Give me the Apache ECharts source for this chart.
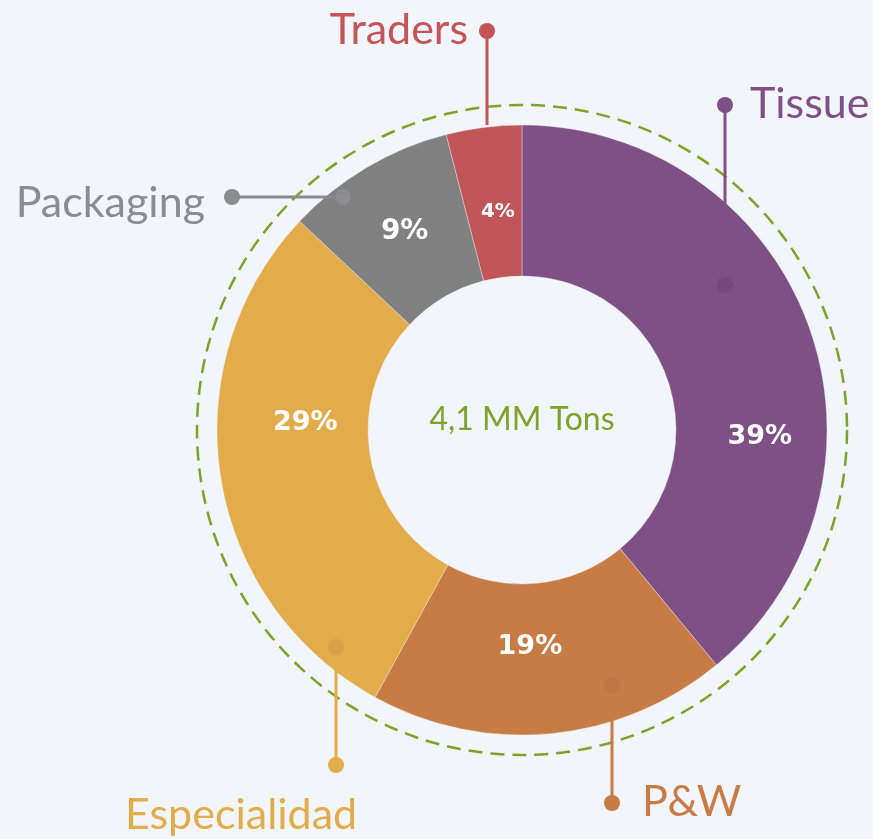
<!DOCTYPE html>
<html>
<head>
<meta charset="utf-8">
<script src="https://cdn.jsdelivr.net/npm/echarts@6/dist/echarts.min.js"></script>
<style>
html,body{margin:0;padding:0;background:#f2f5f9;}
#chart{width:873px;height:839px;}
</style>
</head>
<body>
<div id="chart"></div>
<script>
// ---- data ----
const categories = ['Tissue', 'P&W', 'Especialidad', 'Packaging', 'Traders'];
const shares = [39, 19, 29, 9, 4];
const centerLabel = '4,1 MM Tons';

// ---- styles ----
const sliceColors = ['#7f5085', '#c87c45', '#e3ac4a', '#808080', '#c25558'];
const labelColors = ['#7f5085', '#c87c45', '#e3ac4a', '#8b8b90', '#c4545a'];
const innerDotColors = ['#744679', '#bd7442', '#d6a045', '#8f8f94', '#c4545a'];
const pctSizes = [27, 27, 27, 28, 20];
const green = '#7fa22a';
const CX = 522, CY = 430, R_OUT = 305, R_IN = 154, R_DASH = 325;

// callout layout (pixel positions of label line ends and texts)
const callouts = [
  {from: [725, 285], to: [725, 105], text: [750, 104], align: 'left', innerDot: true},
  {from: [612, 685], to: [612, 803], text: [642, 802], align: 'left', innerDot: true},
  {from: [336, 647], to: [336, 765], text: [125, 815], align: 'left', innerDot: true},
  {from: [343, 197], to: [232, 197], text: [205, 203], align: 'right', innerDot: true},
  {from: [487, 125], to: [487, 31], text: [468, 30], align: 'right', innerDot: false}
];
const pctShift = [[19, 86], [-14, -14], [13, -43], [1, 2], [5, 12]];

const chart = echarts.init(document.getElementById('chart'), null, {renderer: 'canvas'});

const pieData = categories.map((c, i) => ({
  name: c, value: shares[i],
  itemStyle: {color: sliceColors[i]},
  label: {fontSize: pctSizes[i]}
}));
const nameData = categories.map((c, i) => ({
  name: c, value: shares[i],
  label: {color: labelColors[i]},
  labelLine: {lineStyle: {color: labelColors[i]}}
}));

const graphics = [
  {type: 'circle', shape: {cx: CX, cy: CY, r: R_DASH}, silent: true, z: 0,
   style: {fill: 'none', stroke: green, lineWidth: 2.5, lineDash: [14, 8]}},
  {type: 'text', x: CX, y: 420, silent: true, z: 10,
   style: {text: centerLabel, fill: green, font: '32px Lato', textAlign: 'center', textVerticalAlign: 'middle'}}
];
callouts.forEach((c, i) => {
  graphics.push({type: 'circle', shape: {cx: c.to[0], cy: c.to[1], r: 8}, zlevel: 1, silent: true,
    style: {fill: labelColors[i]}});
  if (c.innerDot) {
    graphics.push({type: 'circle', shape: {cx: c.from[0], cy: c.from[1], r: 8}, zlevel: 1, silent: true,
      style: {fill: innerDotColors[i], opacity: 0.8}});
  }
});

chart.setOption({
  backgroundColor: '#f2f5f9',
  animation: false,
  graphic: graphics,
  series: [
    {
      type: 'pie',
      center: [CX, CY],
      radius: [R_IN, R_OUT],
      startAngle: 90,
      clockwise: true,
      silent: true,
      z: 2,
      itemStyle: {borderColor: 'rgba(242,245,249,0.6)', borderWidth: 0.6},
      label: {
        show: true, position: 'inside', formatter: '{c}%',
        color: '#ffffff', fontFamily: 'DejaVu Sans', fontWeight: 'bold', fontSize: 27
      },
      labelLine: {show: false},
      labelLayout: function (p) {
        const s = pctShift[p.dataIndex];
        return {dx: s[0], dy: s[1]};
      },
      data: pieData
    },
    {
      type: 'pie',
      center: [CX, CY],
      radius: [R_IN, R_OUT],
      startAngle: 90,
      clockwise: true,
      silent: true,
      z: 3,
      itemStyle: {color: 'rgba(0,0,0,0)'},
      label: {
        show: true, position: 'outside', formatter: '{b}', overflow: 'none',
        fontFamily: 'Lato', fontSize: 43, edgeDistance: 0
      },
      labelLine: {show: true, lineStyle: {width: 3}},
      labelLayout: function (p) {
        const c = callouts[p.dataIndex];
        const mid = [(c.from[0] + c.to[0]) / 2, (c.from[1] + c.to[1]) / 2];
        return {
          x: c.text[0], y: c.text[1], align: c.align, verticalAlign: 'middle',
          labelLinePoints: [c.from, mid, c.to]
        };
      },
      data: nameData
    }
  ]
});
</script>
</body>
</html>
